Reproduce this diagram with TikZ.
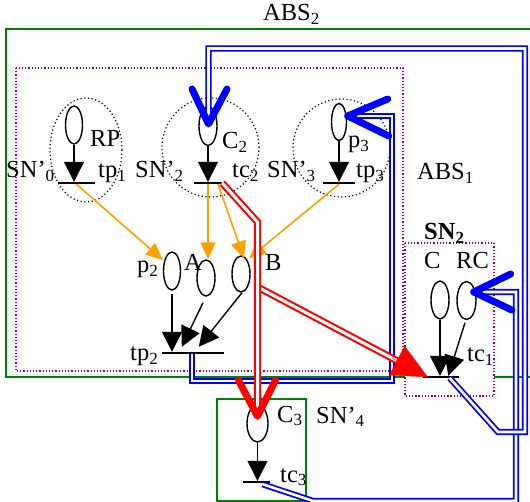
\documentclass[tikz,border=0pt]{standalone}
\usepackage{fontspec}
\setmainfont{Liberation Serif}
\usetikzlibrary{shapes.geometric, arrows.meta, calc}
\definecolor{dgreen}{RGB}{0,128,0}
\definecolor{purp}{RGB}{128,0,128}
\definecolor{orng}{RGB}{255,160,0}
\newcommand{\sbx}[1]{\raisebox{-3.5pt}{\fontsize{17}{17}\selectfont #1}}
\begin{document}
\begin{tikzpicture}[x=1pt,y=-1pt,
  lbl/.style={font=\fontsize{24.5}{28}\selectfont, inner sep=0pt, anchor=base west},
  place/.style={ellipse, draw, line width=1.4pt, inner sep=0pt, minimum width=17pt, minimum height=38pt},
  bar/.style={rectangle, fill=black, inner sep=0pt, minimum height=2pt},
  blk/.style={line width=1.4pt, -{Triangle[length=20pt,width=20pt]}},
  org/.style={orng, line width=1.6pt, -{Triangle[length=17pt,width=15pt]}},
  bdbl/.style={draw=blue, line width=1.8pt, double=white, double distance=2.6pt},
  rdbl/.style={draw=red, line width=2.1pt, double=white, double distance=3pt},
  vee/.style={line width=7pt, line cap=round, line join=round},
  grbox/.style={draw=dgreen, line width=1.5pt},
  pbox/.style={draw=purp, line width=1.3pt, dash pattern=on 1.3pt off 1.9pt},
  scirc/.style={ellipse, draw, line width=1.2pt, dash pattern=on 1.2pt off 2.5pt, inner sep=0pt}
]
\useasboundingbox (0,0) rectangle (530,502);
\clip (0,0) rectangle (530,502);

% boxes
\draw[grbox] (6,29) rectangle (545,377);
\draw[grbox] (217,399) rectangle (306,501);
\draw[pbox] (16,68) rectangle (403,371);
\draw[pbox, fill=white] (405,243) rectangle (494,396);

% scope circles
\node[scirc, minimum width=72pt, minimum height=104pt] (SN0c) at (86,150) {};
\node[scirc, minimum width=97pt, minimum height=99pt] (SN2c) at (210.5,147.5) {};
\node[scirc, minimum width=97pt, minimum height=98pt] (SN3c) at (341.5,148) {};

% places
\node[place, minimum width=17pt, minimum height=38pt] (RP) at (74,125) {};
\node[place, minimum width=18pt, minimum height=39pt] (C2) at (208,126) {};
\node[place, minimum width=15pt, minimum height=37pt] (p3) at (339,122) {};
\node[place] (p2) at (172,271) {};
\node[place, minimum width=18pt, minimum height=36pt] (A) at (206,278) {};
\node[place, minimum width=18pt, minimum height=36pt] (B) at (241,274) {};
\node[place, minimum width=18pt] (C) at (440,300) {};
\node[place, minimum width=19pt] (RC) at (466.5,300.5) {};
\node[place, minimum width=21pt, minimum height=37pt] (C3) at (257.5,423.5) {};

% transitions
\node[bar, minimum width=37pt] (tp1) at (76.5,183) {};
\node[bar, minimum width=28pt] (tc2) at (208,183) {};
\node[bar, minimum width=32pt] (tp3) at (339,183) {};
\node[bar, minimum width=62pt] (tp2) at (193,353) {};
\node[bar, minimum width=36pt] (tc1) at (440.5,377) {};
\node[bar, minimum width=27pt] (tc3) at (256.5,482) {};

% black arcs
\draw[blk] (RP.south) -- (RP.south |- tp1.north);
\draw[blk] (C2.south) -- (C2.south |- tc2.north);
\draw[blk] (p3.south) -- (p3.south |- tp3.north);
\draw[blk] ($(p2.south)+(0,3)$) -- (p2.south |- tp2.north);
\draw[blk] ($(A.south)+(-3,6)$) -- ($(tp2.north west)+(20,-5)$);
\draw[blk] ($(B.south)+(1,0)$) -- ($(tp2.north west)+(37,-5)$);
\draw[blk] (C.south) -- (C.south |- tc1.north);
\draw[blk] ($(RC.south)+(-1.5,2.5)$) -- ($(tc1.north west)+(26,0)$);
\draw[blk] (C3.south) -- (C3.south |- tc3.north);

% orange arcs
\draw[org] (tp1.south) -- ($(p2.west)+(0,-11)$);
\draw[org] (tc2.south) -- (tc2.south |- A.north);
\draw[org] ($(tc2.south)+(10,0)$) -- ($(B.north)+(3,3)$);
\draw[org] (tp3.south) -- ($(B.north)+(8,3)$);

% tips
\coordinate (p3tip) at ($(p3.east)+(0.5,-6)$);
\coordinate (RCtip) at ($(RC.east)+(-3,-8.5)$);
\coordinate (C2tip) at ($(C2.center)+(0.5,-2)$);
\coordinate (C3tip) at ($(C3.north)+(0,12)$);
\coordinate (tc1tip) at ($(tc1.west)+(5.5,0)$);
\coordinate (rb) at (257.5,287);

% blue double connectors
\draw[bdbl] ($(tp2.south)+(-1,0)$) |- (392,381) |- (p3tip);
\draw[bdbl] ($(tc3.south)+(6,1)$) -- (313,501) -| (516,292) -- (RCtip);
\draw[bdbl] ($(tc1.east)+(-9,1)$) -- (498,432) -| (525,48.5) -| (C2tip);
\draw[blue, vee] ($(C2tip)+(-16.5,-35)$) -- (C2tip) -- ($(C2tip)+(18.5,-35)$);
\draw[blue, vee] ($(p3tip)+(40,-17)$) -- (p3tip) -- ($(p3tip)+(41,20)$);
\draw[blue, vee] ($(RCtip)+(37,-18)$) -- (RCtip) -- ($(RCtip)+(38,18)$);

% red double connectors
\draw[rdbl] (rb) -- ($(tc1tip)!33pt!(rb)$);
\draw[red, -{Triangle[length=35pt,width=33pt]}] ($(tc1tip)!40pt!(rb)$) -- (tc1tip);
\draw[rdbl] (tc2.east) -- (257.5,222) -- (C3tip);
\draw[red, vee] ($(C3tip)+(-19,-36)$) -- (C3tip) -- ($(C3tip)+(18,-36)$);

% labels
\node[lbl] (lABS2) at (263,21) {ABS\sbx{2}};
\node[lbl] (lABS1) at (417,180) {ABS\sbx{1}};
\node[lbl] (lSN2) at (424,240) {\bfseries SN\sbx{2}};
\node[lbl] (lC) at (424,269) {C};
\node[lbl] (lRC) at (456,269) {RC};
\node[lbl] (ltc1) at (467,362) {tc\sbx{1}};
\node[lbl] (lRP) at (90,147) {RP};
\node[lbl] (lC2) at (222,149) {C\sbx{2}};
\node[lbl] (lSN0) at (6,178) {SN’\sbx{0}};
\node[lbl] (ltp1) at (98,178) {tp\sbx{1}};
\node[lbl] (lSN2p) at (135,178) {SN’\sbx{2}};
\node[lbl] (ltc2) at (232,178) {tc\sbx{2}};
\node[lbl] (lSN3) at (267,178) {SN’\sbx{3}};
\node[lbl] (ltp3) at (356,178) {tp\sbx{3}};
\node[lbl] (lp3) at (348,148) {p\sbx{3}};
\node[lbl] (lp2) at (137,273) {p\sbx{2}};
\node[lbl] (lA) at (184,271) {A};
\node[lbl] (lB) at (265,271) {B};
\node[lbl] (ltp2) at (130,361) {tp\sbx{2}};
\node[lbl] (lC3) at (277,422) {C\sbx{3}};
\node[lbl] (lSN4) at (316,423) {SN’\sbx{4}};
\node[lbl] (ltc3) at (280,482) {tc\sbx{3}};
\end{tikzpicture}
\end{document}
